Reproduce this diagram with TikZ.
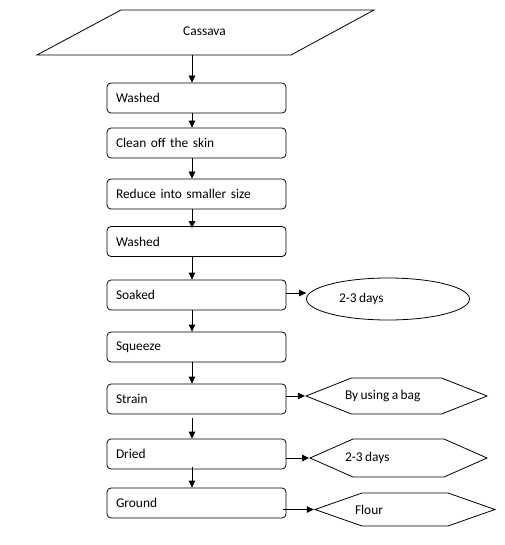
\documentclass[tikz,border=0pt]{standalone}
\usepackage{fontspec}
\setmainfont[WordSpace=0.8]{Carlito}
\usetikzlibrary{arrows.meta,shapes.geometric,shapes.symbols}
\newcommand\shiftedtext[2]{\makebox[0pt][l]{\hspace*{-#1}#2}}
\begin{document}
\begin{tikzpicture}[x=1pt,y=-1pt,
  font=\fontsize{13.4}{16}\selectfont,
  ln/.style={line width=0.8pt},
  stepbox/.style={draw, ln, rounded corners=4pt, minimum width=179pt, minimum height=30pt,
    text width=161pt, inner xsep=9pt, inner ysep=0pt, align=left},
  arr/.style={draw, ln, -{Triangle[length=7pt,width=6.5pt]}},
  hexbox/.style={draw, ln, shape=signal, signal to=east and west, inner sep=0pt},
  ovalbox/.style={draw, ln, ellipse, inner sep=0pt},
]
\useasboundingbox (0,0) rectangle (504,545);
\coordinate (colx) at (192,0);

% input parallelogram
\coordinate (pa) at (37,55);
\coordinate (pb) at (121,10);
\coordinate (pc) at (374,10);
\coordinate (pd) at (291,55);
\draw[ln] (pa) -- (pb) -- (pc) -- (pd) -- cycle;
\node (cassava) at (204.5,31) {Cassava};
\coordinate (cassout) at (192,55);

\node[stepbox] (w1) at (196.5,98) {Washed};
\node[stepbox] (c2) at (196.5,143) {Clean off the skin};
\node[stepbox] (r3) at (196.5,194) {Reduce into smaller size};
\node[stepbox] (w4) at (196.5,241.5) {Washed};
\node[stepbox] (s5) at (196.5,295) {Soaked};
\node[stepbox] (q6) at (196.5,347) {Squeeze};
\node[stepbox] (st7) at (196.5,399) {Strain};
\node[stepbox] (d8) at (196.5,454) {Dried};
\node[stepbox] (g9) at (196.5,503) {Ground};

\node[ovalbox, minimum width=163pt, minimum height=42pt] (e1) at (388,299) {\shiftedtext{49pt}{2-3 days}};
\node[hexbox, signal pointer angle=43.2, minimum width=181pt, minimum height=36pt] (h1) at (396.5,396) {\shiftedtext{51.5pt}{By using a bag}};
\node[hexbox, signal pointer angle=47.7, minimum width=177pt, minimum height=38pt] (h2) at (398.5,458) {\shiftedtext{53.5pt}{2-3 days}};
\node[hexbox, signal pointer angle=38.7, minimum width=180pt, minimum height=33pt] (h3) at (405,509.5) {\shiftedtext{50pt}{Flour}};

% vertical flow
\draw[arr] (cassout) -- (w1.north -| colx);
\draw[arr] (w1.south -| colx) -- (c2.north -| colx);
\draw[arr] (c2.south -| colx) -- (r3.north -| colx);
\coordinate (w4in) at ([yshift=-2pt]w4.north);
\draw[arr] (r3.south -| colx) -- (w4in -| colx);
\draw[arr] (w4.south -| colx) -- (s5.north -| colx);
\draw[arr] (s5.south -| colx) -- (q6.north -| colx);
\draw[arr] (q6.south -| colx) -- (st7.north -| colx);
\coordinate (st7out) at ([yshift=-4pt]st7.south);
\draw[arr] (st7out -| colx) -- (d8.north -| colx);
\coordinate (d8out) at ([yshift=2pt]d8.south);
\draw[arr] (d8out -| colx) -- (g9.north -| colx);

% side arrows
\coordinate (e1in) at ([yshift=6pt]e1.west);
\draw[arr] (s5.east |- e1in) -- (e1in);
\draw[arr] (st7.east |- h1.west) -- (h1.west);
\draw[arr] (d8.east |- h2.west) -- (h2.west);
\coordinate (g9out) at ([xshift=-3pt]g9.east);
\draw[arr] (g9out |- h3.west) -- (h3.west);
\end{tikzpicture}
\end{document}
